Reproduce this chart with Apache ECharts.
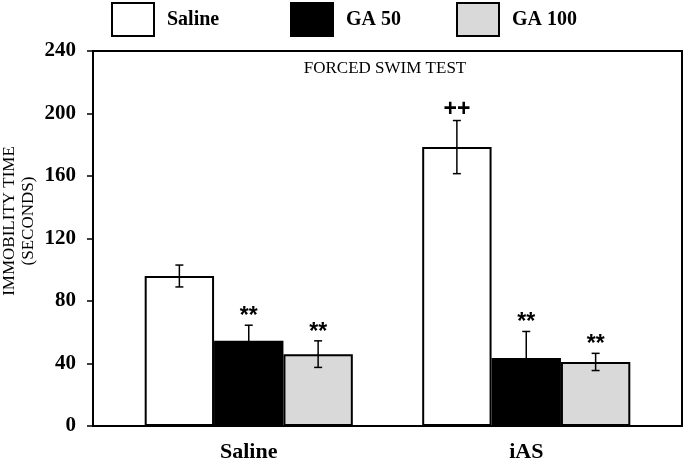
<!DOCTYPE html>
<html>
<head>
<meta charset="utf-8">
<script src="https://cdn.jsdelivr.net/npm/echarts@6/dist/echarts.min.js"></script>
<style>html,body{margin:0;padding:0;background:#fff;}#c{width:685px;height:461px;}</style>
</head>
<body>
<div id="c"></div>
<script>
// ---- data ----
const categories = ['Saline', 'iAS'];
const seriesNames = ['Saline', 'GA 50', 'GA 100'];
const salineMean = [96, 178.5];
const salineSem = [7, 17];
const ga50Mean = [54.5, 43.5];
const ga50Sem = [10, 17];
const ga100Mean = [46, 41];
const ga100Sem = [8.5, 5.5];
const salineSig = ['', '++'];
const ga50Sig = ['**', '**'];
const ga100Sig = ['**', '**'];
const yMin = 0, yMax = 240, yInterval = 40;
const yAxisTitle = 'IMMOBILITY TIME\n(SECONDS)';

const FONT = 'Liberation Serif';
const colors = ['#ffffff', '#000000', '#d9d9d9'];
const means = [salineMean, ga50Mean, ga100Mean];
const sems = [salineSem, ga50Sem, ga100Sem];
const sigs = [salineSig, ga50Sig, ga100Sig];

function barSeries(i) {
  return {
    name: seriesNames[i], type: 'bar', xAxisIndex: 1, yAxisIndex: 1,
    data: means[i], barWidth: '25%', barGap: '0%',
    itemStyle: { color: colors[i], borderColor: '#000', borderWidth: 2 },
    z: 2
  };
}
function errSeries(i) {
  return {
    type: 'custom', xAxisIndex: 1, yAxisIndex: 1, z: 5,
    data: categories.map((c, k) => [k, means[i][k], sems[i][k]]),
    renderItem: function (params, api) {
      const cat = api.value(0), m = api.value(1), s = api.value(2);
      const bw = api.size([1, 0])[0];
      const off = (i - 1) * bw * 0.25;
      const top = api.coord([cat, m + s]);
      const bot = api.coord([cat, m - s]);
      const x = top[0] + off;
      const cap = 4;
      const st = { stroke: '#000', lineWidth: 1.5 };
      const sig = sigs[i][params.dataIndex];
      const children = [
        { type: 'line', shape: { x1: x, y1: top[1], x2: x, y2: bot[1] }, style: st },
        { type: 'line', shape: { x1: x - cap, y1: top[1], x2: x + cap, y2: top[1] }, style: st },
        { type: 'line', shape: { x1: x - cap, y1: bot[1], x2: x + cap, y2: bot[1] }, style: st }
      ];
      if (sig) {
        children.push({
          type: 'text',
          style: {
            text: sig, x: x, y: top[1] - (sig === '++' ? -1 : -3),
            align: 'center', verticalAlign: 'bottom',
            font: 'bold 23px "Liberation Sans"', fill: '#000'
          }
        });
      }
      return { type: 'group', children: children };
    }
  };
}

function legendFor(i, left) {
  return {
    data: [seriesNames[i]], left: left, top: 2, padding: 0, orient: 'horizontal',
    icon: 'rect', itemWidth: 42, itemHeight: 33,
    itemStyle: { borderColor: '#000', borderWidth: 2 },
    textStyle: { fontFamily: FONT, fontWeight: 'bold', fontSize: 20, color: '#000', padding: [0, 0, 0, 8] },
    selectedMode: false
  };
}

const chart = echarts.init(document.getElementById('c'), null, { renderer: 'canvas' });
chart.setOption({
  animation: false,
  backgroundColor: '#fff',
  title: {
    text: 'FORCED SWIM TEST', left: 380, top: 55, textAlign: 'center',
    textStyle: { fontFamily: FONT, fontWeight: 'normal', fontSize: 17, color: '#000' }
  },
  legend: [legendFor(0, 111), legendFor(1, 290), legendFor(2, 456)],
  graphic: [{
    type: 'text', x: 19, y: 221, rotation: Math.PI / 2,
    style: {
      text: yAxisTitle, align: 'center', verticalAlign: 'middle',
      font: '17px "Liberation Serif"', lineHeight: 19, fill: '#000'
    }
  }],
  grid: [
    { left: 93, right: 3, top: 51, bottom: 35, show: true, borderColor: '#000', borderWidth: 2,
      backgroundColor: 'transparent', outerBoundsMode: 'none', containLabel: false },
    { left: 110, right: 20, top: 51, bottom: 35, outerBoundsMode: 'none', containLabel: false }
  ],
  xAxis: [
    { type: 'category', gridIndex: 0, data: categories, show: false },
    {
      type: 'category', gridIndex: 1, data: categories,
      axisLine: { show: false }, axisTick: { show: false },
      axisLabel: { fontFamily: FONT, fontWeight: 'bold', fontSize: 22, color: '#000', margin: 15 }
    }
  ],
  yAxis: [
    {
      type: 'value', gridIndex: 0, min: yMin, max: yMax, interval: yInterval,
      axisLine: { show: true, lineStyle: { color: '#000', width: 2 } },
      axisTick: { show: true, length: 6, lineStyle: { color: '#000', width: 1.5 } },
      axisLabel: { fontFamily: FONT, fontWeight: 'bold', fontSize: 21, color: '#000', margin: 17 },
      splitLine: { show: false }
    },
    { type: 'value', gridIndex: 1, min: yMin, max: yMax, interval: yInterval, show: false }
  ],
  series: [barSeries(0), barSeries(1), barSeries(2), errSeries(0), errSeries(1), errSeries(2)]
});
</script>
</body>
</html>
